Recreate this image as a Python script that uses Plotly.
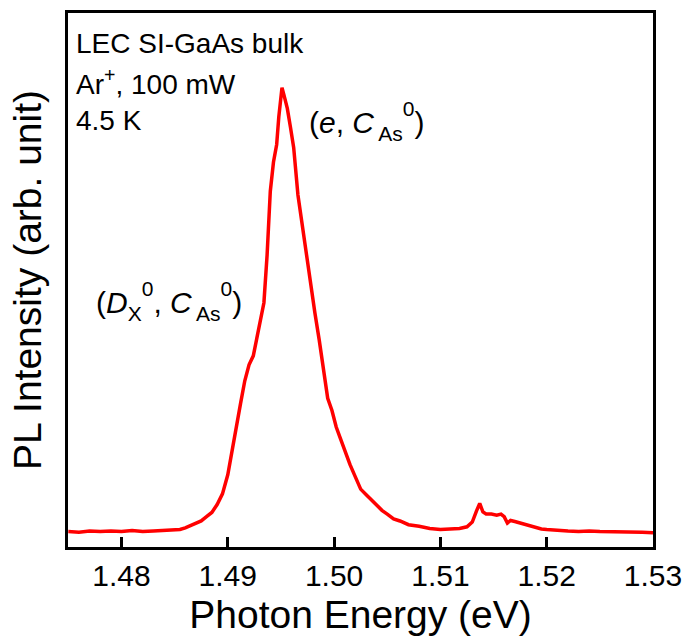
import plotly.graph_objects as go

# Photoluminescence spectrum, LEC semi-insulating GaAs, 4.5 K
energy_ev = [
    1.4750, 1.4760, 1.4770, 1.4780, 1.4790, 1.4800, 1.4810, 1.4820, 1.4830, 1.4840,
    1.4850, 1.4855, 1.4860, 1.4865, 1.4870, 1.4875, 1.4880, 1.4885, 1.4890, 1.4895,
    1.4900, 1.4904, 1.4908, 1.4912, 1.4916, 1.4920, 1.4924, 1.4928, 1.4931, 1.4934,
    1.4937, 1.4940, 1.4943, 1.4946, 1.4948, 1.4951, 1.4953, 1.4956, 1.4959, 1.4962,
    1.4966, 1.4970, 1.4974, 1.4978, 1.4982, 1.4986, 1.4990, 1.4994, 1.4998, 1.5002,
    1.5006, 1.5010, 1.5015, 1.5020, 1.5025, 1.5030, 1.5035, 1.5040, 1.5045, 1.5050,
    1.5056, 1.5062, 1.5070, 1.5080, 1.5090, 1.5100, 1.5110, 1.5118, 1.5125, 1.5130,
    1.5134, 1.5137, 1.5140, 1.5143, 1.5148, 1.5153, 1.5157, 1.5160, 1.5163, 1.5166,
    1.5170, 1.5175, 1.5180, 1.5185, 1.5190, 1.5195, 1.5200, 1.5210, 1.5220, 1.5230,
    1.5240, 1.5250, 1.5260, 1.5270, 1.5280, 1.5290, 1.5300,
]
pl_intensity = [
    0.029, 0.028, 0.030, 0.029, 0.030, 0.029, 0.031, 0.029, 0.030, 0.031,
    0.031, 0.033, 0.036, 0.040, 0.044, 0.049, 0.057, 0.065, 0.080, 0.100,
    0.136, 0.183, 0.230, 0.270, 0.313, 0.343, 0.360, 0.403, 0.432, 0.460,
    0.550, 0.670, 0.725, 0.758, 0.810, 0.865, 0.850, 0.826, 0.790, 0.752,
    0.663, 0.606, 0.550, 0.490, 0.440, 0.390, 0.330, 0.280, 0.257, 0.226,
    0.204, 0.182, 0.155, 0.132, 0.109, 0.099, 0.089, 0.079, 0.069, 0.062,
    0.053, 0.049, 0.042, 0.039, 0.035, 0.033, 0.034, 0.035, 0.038, 0.047,
    0.068, 0.082, 0.066, 0.062, 0.062, 0.060, 0.062, 0.057, 0.045, 0.050,
    0.048, 0.045, 0.042, 0.040, 0.036, 0.034, 0.033, 0.031, 0.030, 0.029,
    0.030, 0.029, 0.029, 0.028, 0.029, 0.028, 0.027,
]

x_ticks = [1.48, 1.49, 1.50, 1.51, 1.52, 1.53]
x_tick_text = ["1.48", "1.49", "1.50", "1.51", "1.52", "1.53"]

info_lines = ["LEC SI-GaAs bulk", "Ar<sup>+</sup>, 100 mW", "4.5 K"]

FONT = "Liberation Sans, Arial, sans-serif"
W, H = 692, 639
ML, MR, MT, MB = 68, 35, 10, 91


def px_x(px):
    return (px - ML) / (W - ML - MR)


def px_y(py):
    return (H - MB - py) / (H - MT - MB)


def big(s):
    return f"<span style='font-size:30px'>{s}</span>"


def small(s):
    return f"<span style='font-size:21px'>{s}</span>"


# peak assignments: main text 30px, subscripts/superscripts 21px,
# base size 40px so the sub/sup offsets come out larger
label_e = (big("(<i>e</i>, <i>C</i>") + "<sub>" + small("\u2009As") + "</sub>"
           + "<sup>" + small("0") + "</sup>" + big(")"))
label_d = (big("(<i>D</i>") + "<sub>" + small("X") + "</sub>" + "<sup>" + small("0") + "</sup>"
           + big(", <i>C</i>") + "<sub>" + small("\u2009As") + "</sub>"
           + "<sup>" + small("0") + "</sup>" + big(")"))

fig = go.Figure()
fig.add_trace(go.Scatter(
    x=energy_ev, y=pl_intensity, mode="lines",
    line=dict(color="#ff0000", width=3.5),
    showlegend=False,
))

annotations = []
for i, txt in enumerate(info_lines):
    annotations.append(dict(
        x=px_x(74), y=px_y(41 + 38.5 * i), xref="paper", yref="paper",
        text=txt, showarrow=False, xanchor="left", yanchor="middle",
        font=dict(family=FONT, size=28, color="black"),
    ))

annotations.append(dict(
    x=px_x(309), y=px_y(119), xref="paper", yref="paper",
    text=label_e, showarrow=False, xanchor="left", yanchor="middle",
    font=dict(family=FONT, size=40, color="black"),
))
annotations.append(dict(
    x=px_x(94), y=px_y(300), xref="paper", yref="paper",
    text=label_d, showarrow=False, xanchor="left", yanchor="middle",
    font=dict(family=FONT, size=40, color="black"),
))

fig.update_layout(
    width=W, height=H,
    margin=dict(l=ML, r=MR, t=MT, b=MB),
    paper_bgcolor="white", plot_bgcolor="white",
    font=dict(family=FONT, color="black"),
    annotations=annotations,
    xaxis=dict(
        range=[1.47497, 1.53], tickvals=x_ticks, ticktext=x_tick_text,
        ticks="inside", ticklen=10, tickwidth=3, tickcolor="black",
        showline=True, linecolor="black", linewidth=3, mirror=True,
        showgrid=False, zeroline=False,
        tickfont=dict(family=FONT, size=30),
        title=dict(text="Photon Energy (eV)", font=dict(family=FONT, size=39), standoff=10),
    ),
    yaxis=dict(
        range=[0, 1.0056], showticklabels=False, ticks="",
        showline=True, linecolor="black", linewidth=3, mirror=True,
        showgrid=False, zeroline=False,
        title=dict(text="PL Intensity (arb. unit)", font=dict(family=FONT, size=39), standoff=12),
    ),
)

fig.write_html("out.html")
